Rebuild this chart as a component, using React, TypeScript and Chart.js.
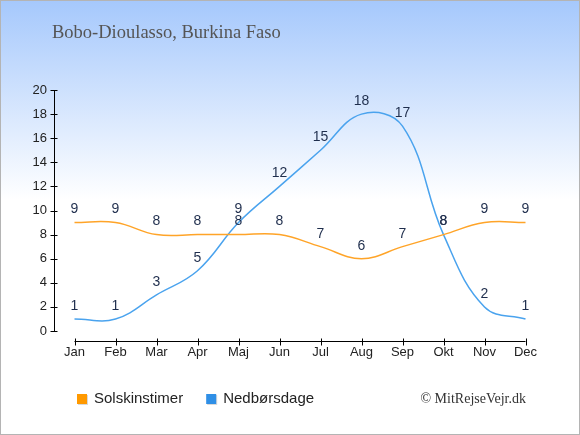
import { useEffect, useRef } from 'react';
import { Chart, registerables } from 'chart.js';

Chart.register(...registerables);

const months = ['Jan', 'Feb', 'Mar', 'Apr', 'Maj', 'Jun', 'Jul', 'Aug', 'Sep', 'Okt', 'Nov', 'Dec'];
const sunHours = [9, 9, 8, 8, 8, 8, 7, 6, 7, 8, 9, 9];
const rainDays = [1, 1, 3, 5, 9, 12, 15, 18, 17, 8, 2, 1];
const yTicks = [0, 2, 4, 6, 8, 10, 12, 14, 16, 18, 20];

const title = 'Bobo-Dioulasso, Burkina Faso';
const credit = '© MitRejseVejr.dk';
const seriesNames = ['Solskinstimer', 'Nedbørsdage'];
const seriesColors = ['#ff9900', '#2f8fe6'];
const lineColors = ['#ffa428', '#4aa3ee'];

const SANS = '"Liberation Sans", Arial, sans-serif';
const SERIF = '"Liberation Serif", "Times New Roman", serif';

// background, frame, x axis, y tick marks, point labels, legend, credit
const decor = {
  id: 'decor',
  beforeDraw(chart: Chart) {
    const { ctx, width, height } = chart;
    const g = ctx.createLinearGradient(0, 0, 0, 200);
    g.addColorStop(0, '#a5c8fc');
    g.addColorStop(1, '#ffffff');
    ctx.save();
    ctx.fillStyle = g;
    ctx.fillRect(0, 0, width, height);
    ctx.restore();
  },
  afterDraw(chart: Chart) {
    const { ctx, width, height, chartArea } = chart;
    const x = chart.scales.x;
    const y = chart.scales.y;
    ctx.save();

    // x axis line, shifted below the plot
    const ay = Math.round(chartArea.bottom + 10) + 0.5;
    ctx.strokeStyle = '#000';
    ctx.lineWidth = 1;
    ctx.beginPath();
    ctx.moveTo(x.getPixelForValue(0), ay);
    ctx.lineTo(x.getPixelForValue(months.length - 1), ay);
    for (let i = 0; i < months.length; i++) {
      const px = Math.round(x.getPixelForValue(i)) + 0.5;
      ctx.moveTo(px, ay - 3);
      ctx.lineTo(px, ay + 4);
    }
    // y tick marks
    const lx = Math.round(chartArea.left) + 0.5;
    y.ticks.forEach((t) => {
      const py = Math.round(y.getPixelForValue(t.value)) + 0.5;
      ctx.moveTo(lx - 4, py);
      ctx.lineTo(lx + 3, py);
    });
    ctx.stroke();

    // value labels above points
    ctx.font = `14px ${SANS}`;
    ctx.fillStyle = '#1f2e4d';
    ctx.textAlign = 'center';
    ctx.textBaseline = 'middle';
    chart.data.datasets.forEach((ds, di) => {
      chart.getDatasetMeta(di).data.forEach((pt, i) => {
        ctx.fillText(String(ds.data[i]), pt.x, pt.y - 13);
      });
    });

    // title
    ctx.font = `18.5px ${SERIF}`;
    ctx.fillStyle = '#555';
    ctx.textAlign = 'left';
    ctx.textBaseline = 'alphabetic';
    ctx.fillText(title, 52, 38);

    // legend
    ctx.font = `15px ${SANS}`;
    ctx.textBaseline = 'middle';
    let lx2 = 77;
    seriesNames.forEach((name, i) => {
      ctx.fillStyle = 'rgba(0,0,0,0.15)';
      ctx.fillRect(lx2 + 1, 395, 10, 10);
      ctx.fillStyle = seriesColors[i];
      ctx.fillRect(lx2, 394, 10, 10);
      ctx.fillStyle = '#222';
      ctx.fillText(name, lx2 + 17, 399);
      lx2 += 17 + ctx.measureText(name).width + 23;
    });

    // credit
    ctx.font = `14px ${SERIF}`;
    ctx.fillStyle = '#333';
    ctx.textAlign = 'right';
    ctx.textBaseline = 'alphabetic';
    ctx.fillText(credit, 526, 403);

    // frame
    ctx.strokeStyle = '#b4b4b4';
    ctx.lineWidth = 2;
    ctx.strokeRect(0, 0, width, height);
    ctx.restore();
  },
};

export default function App() {
  const canvasRef = useRef<HTMLCanvasElement | null>(null);

  useEffect(() => {
    document.body.style.margin = '0';
    const canvas = canvasRef.current;
    if (!canvas) return;

    const chart = new Chart(canvas, {
      type: 'line',
      data: {
        labels: months,
        datasets: [
          {
            label: seriesNames[0],
            data: sunHours,
            borderColor: lineColors[0],
            borderWidth: 1.5,
            tension: 0.4,
            pointRadius: 0,
            fill: false,
          },
          {
            label: seriesNames[1],
            data: rainDays,
            borderColor: lineColors[1],
            borderWidth: 1.5,
            tension: 0.4,
            pointRadius: 0,
            fill: false,
          },
        ],
      },
      options: {
        responsive: false,
        animation: false,
        layout: { padding: { top: 90, right: 34, bottom: 74, left: 0 } },
        plugins: {
          legend: { display: false },
          title: { display: false },
          tooltip: { enabled: false },
        },
        scales: {
          x: {
            offset: true,
            grid: { display: false, drawTicks: false },
            border: { display: false },
            ticks: {
              padding: 14,
              color: '#222',
              font: { family: SANS, size: 13 },
              maxRotation: 0,
              autoSkip: false,
            },
            afterFit: (s: any) => {
              s.height = 30;
            },
          },
          y: {
            min: 0,
            max: 20,
            afterBuildTicks: (s: any) => {
              s.ticks = yTicks.map((v) => ({ value: v }));
            },
            grid: { display: false, drawTicks: false },
            border: { display: true, color: '#000', width: 1 },
            ticks: {
              padding: 7,
              color: '#222',
              font: { family: SANS, size: 13 },
            },
            afterFit: (s: any) => {
              s.width = 54;
            },
          },
        },
      },
      plugins: [decor],
    });

    return () => chart.destroy();
  }, []);

  return <canvas ref={canvasRef} width={580} height={435} style={{ display: 'block' }} />;
}
